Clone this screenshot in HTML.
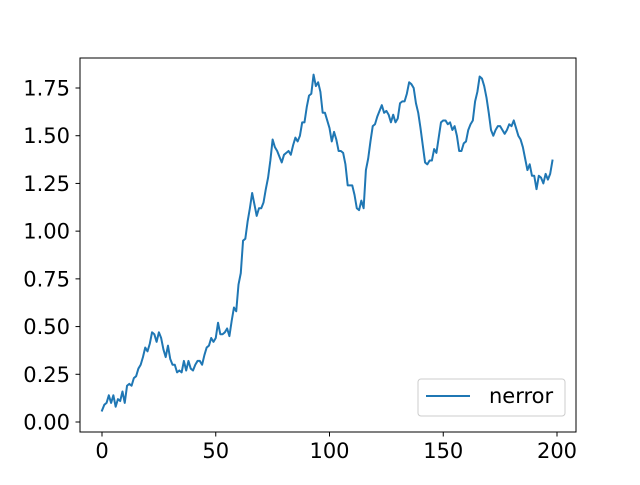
<!DOCTYPE html>
<html><head><meta charset="utf-8"><style>body{margin:0;background:#fff}svg{font-family:"DejaVu Sans","Liberation Sans",sans-serif}</style></head>
<body>
<svg id="chart" width="640" height="480" xmlns="http://www.w3.org/2000/svg"></svg>
<script>
const values = [0.06,0.09,0.10,0.14,0.10,0.14,0.08,0.12,0.11,0.16,0.10,0.19,0.20,0.19,0.23,0.24,0.28,0.30,0.34,0.39,0.37,
0.41,0.47,0.46,0.42,0.47,0.44,0.38,0.34,0.40,0.33,0.30,0.30,0.26,0.27,0.26,0.32,0.27,0.32,0.28,
0.27,0.30,0.32,0.32,0.30,0.35,0.39,0.40,0.44,0.42,0.44,0.52,0.46,0.46,0.47,0.49,0.45,0.53,0.60,0.58,
0.72,0.78,0.95,0.96,1.05,1.12,1.20,1.14,1.08,1.12,1.12,1.15,1.22,1.28,1.37,1.48,1.44,1.42,1.39,1.36,
1.40,1.41,1.42,1.40,1.45,1.49,1.47,1.50,1.57,1.57,1.65,1.71,1.72,1.82,1.76,1.78,1.73,1.62,1.62,1.58,
1.54,1.47,1.52,1.48,1.42,1.42,1.41,1.35,1.24,1.24,1.24,1.19,1.12,1.11,1.16,1.12,1.32,1.38,1.47,1.55,
1.56,1.60,1.63,1.66,1.62,1.63,1.61,1.57,1.61,1.57,1.59,1.67,1.68,1.68,1.72,1.78,1.77,1.75,1.67,1.62,
1.54,1.45,1.36,1.35,1.37,1.37,1.43,1.41,1.49,1.57,1.58,1.58,1.56,1.57,1.53,1.55,1.50,1.42,1.42,1.46,
1.47,1.53,1.56,1.58,1.68,1.73,1.81,1.80,1.76,1.70,1.62,1.53,1.50,1.53,1.55,1.55,1.53,1.51,1.53,1.56,
1.55,1.58,1.54,1.50,1.48,1.44,1.38,1.32,1.35,1.29,1.29,1.22,1.29,1.28,1.25,1.30,1.27,1.30,1.37];
const xTicks = [0,50,100,150,200];
const yTicks = [0,0.25,0.5,0.75,1.0,1.25,1.5,1.75];
const yTickLabels = ["0.00","0.25","0.50","0.75","1.00","1.25","1.50","1.75"];
const seriesName = "nerror";

const svg = document.getElementById('chart');
const NS = "http://www.w3.org/2000/svg";
const L=80,R=576,T=58,B=432;
const xs = v => 102 + v*(557-102)/200;
const ys = v => 422 - v*(422-88)/1.75;
function mk(tag, attrs){const e=document.createElementNS(NS,tag);for(const k in attrs)e.setAttribute(k,attrs[k]);svg.appendChild(e);return e;}

let d = values.map((v,i)=>(i?'L':'M')+xs(i).toFixed(2)+','+ys(v).toFixed(2)).join('');
const line = mk('path',{d:d,fill:'none',stroke:'#1f77b4','stroke-width':2,'stroke-linejoin':'round','stroke-linecap':'square'});



const frame = mk('rect',{x:L,y:T,width:R-L,height:B-T,fill:'none',stroke:'#000','stroke-width':1});



xTicks.forEach(t=>{
  const tk = mk('line',{x1:xs(t),x2:xs(t),y1:B,y2:B+4.5,stroke:'#000','stroke-width':1});
  
  
  const tx = mk('text',{x:xs(t),y:B+26,'font-size':21,'text-anchor':'middle',fill:'#000'});
  tx.textContent = t;
  
  
});
yTicks.forEach((t,i)=>{
  const tk = mk('line',{x1:L-4.5,x2:L,y1:ys(t),y2:ys(t),stroke:'#000','stroke-width':1});
  
  
  const tx = mk('text',{x:L-10,y:ys(t)+7.5,'font-size':21,'text-anchor':'end',fill:'#000'});
  tx.textContent = yTickLabels[i];
  
  
});

const lg = mk('rect',{x:418,y:379,width:147,height:37,rx:3,fill:'#fff','fill-opacity':0.8,stroke:'#ccc'});


const ll = mk('line',{x1:426,x2:470,y1:396,y2:396,stroke:'#1f77b4','stroke-width':2});


const lt = mk('text',{x:489,y:403,'font-size':21,fill:'#000'});
lt.textContent = seriesName;


</script>
</body></html>
